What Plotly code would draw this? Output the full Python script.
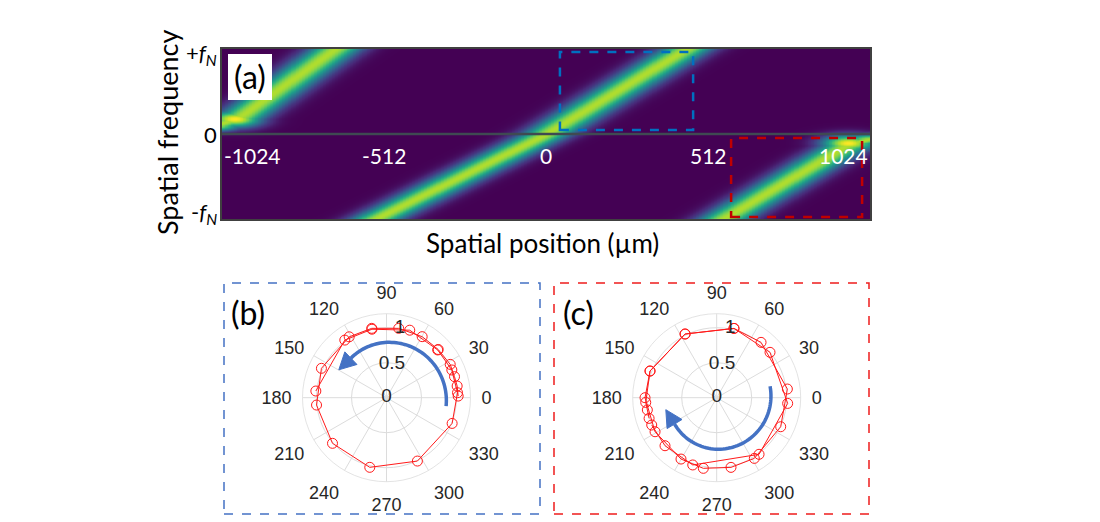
import numpy as np
import plotly.graph_objects as go

# page body adds an 8px margin, so the figure is laid out in page pixels minus 8
OFF = 8
W, H = 1100 - OFF, 522 - OFF

# ---------------- (a) spectrogram ----------------
pos_ticks = [-1024, -512, 0, 512, 1024]
pos_ticktext = ["-1024", "-512", "0", "512", "1024"]
freq_labels = ["+<i>f</i><sub><i>N</i></sub>", "0", "-<i>f</i><sub><i>N</i></sub>"]

# band centre lines: normalised frequency -> position (µm)
bandL_f = [0.10, 0.19, 1.0]
bandL_x = [-1050, -972, -667]
bandM_f = [-1.0, 0.0, 1.0]
bandM_x = [-540, 0, 442]
bandR_f = [-1.0, -0.11, -0.06]
bandR_x = [559, 961, 1024]
band_peak = 0.88
band_sigma_um = 58
spot_x = [-985, 955]
spot_f = [0.18, -0.105]
spot_peak = [1.0, 1.0]

# zoom boxes (µm, normalised freq)
blue_box = [44, 465, 0.047, 0.965]
red_box = [585, 999, -0.976, -0.047]

# ---------------- (b) and (c) polar ----------------
b_theta = [1.3, 9.4, 17.2, 27.6, 43, 59.7, 80, 102, 121.5, 155.7, 186, 220.2, 256.5,
           296, 338.6, 4, 23, 43, 71, 102, 125.9, 174.6]
b_r = [1.024, 1.023, 1.017, 1.027, 1.01, 1.01, 1.006, 1.013, 1.02, 1.02, 1.005, 1.01,
       1.023, 1.007, 1.007, 1.017, 1.014, 1.0, 1.02, 1.0, 1.016, 1.014]
c_theta = [197, 190, 183.8, 158.2, 116.4, 76, 51.3, 7, 335.6, 301.8, 281.6, 259.3, 239.8,
           208.9, 180, 158.2, 116.4, 76, 40.4, 355.4, 306.8, 250.4, 222.9, 202.8]
c_r = [1.01, 1.006, 1.016, 1.026, 1.016, 1.02, 1.013, 1.017, 1.004, 1.02, 1.016, 1.027,
       1.014, 1.006, 1.024, 1.026, 1.016, 1.02, 1.0, 1.017, 1.01, 1.02, 1.008, 1.007]
ang_ticks = list(range(0, 360, 30))
rad_labels = ["0", "0.5", "1"]


# ---------------- helpers (page pixel -> paper) ----------------
def px(x):
    return (x - OFF) / W


def py(y):
    return 1 - (y - OFF) / H


# heat map image
xs = np.linspace(-1024, 1024, 430)
fs = np.linspace(-1, 1, 171)
X, F = np.meshgrid(xs, fs)
Z = np.zeros_like(X)
for bf, bx in [(bandL_f, bandL_x), (bandM_f, bandM_x), (bandR_f, bandR_x)]:
    xc = np.interp(F, bf, bx)
    w = np.exp(-0.5 * ((X - xc) / band_sigma_um) ** 2)
    lo, hi = min(bf), max(bf)
    fade = np.where(F < lo, np.exp(-0.5 * ((F - lo) / 0.045) ** 2), 1.0)
    fade = fade * np.where(F > hi, np.exp(-0.5 * ((F - hi) / 0.045) ** 2), 1.0)
    Z = np.maximum(Z, band_peak * w * fade)
for sx, sf, sp in zip(spot_x, spot_f, spot_peak):
    Z = np.maximum(Z, sp * np.exp(-0.5 * ((X - sx) / 60) ** 2 - 0.5 * ((F - sf) / 0.07) ** 2))

fig = go.Figure()
fig.add_trace(go.Heatmap(x=xs, y=fs, z=Z, colorscale="Viridis", zmin=0, zmax=1,
                         showscale=False, zsmooth="best", hoverinfo="skip"))

# zero-frequency line
fig.add_shape(type="line", xref="x", yref="y", x0=-1024, x1=1024, y0=0, y1=0,
              line=dict(color="#3f4a52", width=2.5))
# zoom boxes
fig.add_shape(type="rect", xref="x", yref="y", x0=blue_box[0], x1=blue_box[1],
              y0=blue_box[2], y1=blue_box[3], line=dict(color="#0070c0", width=2.5, dash="dash"))
fig.add_shape(type="rect", xref="x", yref="y", x0=red_box[0], x1=red_box[1],
              y0=red_box[2], y1=red_box[3], line=dict(color="#c00000", width=2.5, dash="dash"))

# position labels inside the image
for v, t in zip(pos_ticks, pos_ticktext):
    anchor = "left" if v == pos_ticks[0] else ("right" if v == pos_ticks[-1] else "center")
    fig.add_annotation(x=v, y=-0.25, xref="x", yref="y", text=t, showarrow=False,
                       xanchor=anchor, yanchor="middle",
                       font=dict(family="Lato", size=21, color="white"))

fig.update_layout(
    xaxis=dict(domain=[px(222), px(870)], range=[-1024, 1024], showticklabels=False,
               ticks="", showgrid=False, zeroline=False, showline=True, mirror=True,
               linecolor="#404040", linewidth=1.5),
    yaxis=dict(domain=[py(219), py(49)], range=[-1, 1], showticklabels=False, ticks="",
               showgrid=False, zeroline=False, showline=True, mirror=True,
               linecolor="#404040", linewidth=1.5),
)

# frequency labels
for t, yy in zip(freq_labels, [54, 134, 213]):
    fig.add_annotation(x=px(219), y=py(yy), xref="paper", yref="paper", text=t,
                       showarrow=False, xanchor="right", yanchor="middle",
                       font=dict(family="Lato", size=22, color="black"))
fig.add_annotation(x=px(167), y=py(133), xref="paper", yref="paper", text="Spatial frequency",
                   showarrow=False, textangle=-90, xanchor="center", yanchor="middle",
                   font=dict(family="Lato", size=27, color="black"))
fig.add_annotation(x=px(542), y=py(243), xref="paper", yref="paper", text="Spatial position (µm)",
                   showarrow=False, xanchor="center", yanchor="middle",
                   font=dict(family="Lato", size=26, color="black"))
# (a) label in white box
fig.add_shape(type="rect", xref="paper", yref="paper", x0=px(228), x1=px(272), y0=py(100), y1=py(54),
              fillcolor="white", line=dict(width=0))
fig.add_annotation(x=px(250), y=py(77), xref="paper", yref="paper", text="(a)", showarrow=False,
                   xanchor="center", yanchor="middle", font=dict(family="Lato", size=32, color="black"))

# panel boxes
fig.add_shape(type="rect", xref="paper", yref="paper", x0=px(224), x1=px(540), y0=py(514), y1=py(283),
              line=dict(color="#4472c4", width=1.5, dash="dash"))
fig.add_shape(type="rect", xref="paper", yref="paper", x0=px(554), x1=px(869), y0=py(514), y1=py(283),
              line=dict(color="#ee1c1c", width=1.5, dash="dash"))
fig.add_annotation(x=px(248), y=py(312), xref="paper", yref="paper", text="(b)", showarrow=False,
                   xanchor="center", yanchor="middle", font=dict(family="Lato", size=32, color="black"))
fig.add_annotation(x=px(578), y=py(312), xref="paper", yref="paper", text="(c)", showarrow=False,
                   xanchor="center", yanchor="middle", font=dict(family="Lato", size=32, color="black"))

# polar plots
R_PX = 84
centres = {"polar": (386.5, 397.7), "polar2": (716.7, 397.7)}
GRID = "#dcdcdc"
for name, (cx, cy) in centres.items():
    fig.update_layout({name: dict(
        domain=dict(x=[px(cx - R_PX), px(cx + R_PX)], y=[py(cy + R_PX), py(cy - R_PX)]),
        bgcolor="white",
        radialaxis=dict(range=[0, 1.2], tickvals=[0.5, 1.0], showticklabels=False, ticks="",
                        showline=False, gridcolor=GRID, gridwidth=0.8),
        angularaxis=dict(tickmode="array", tickvals=ang_ticks, ticktext=[str(a) for a in ang_ticks],
                         direction="counterclockwise", rotation=0, showline=True,
                         linecolor=GRID, linewidth=0.8, gridcolor=GRID, gridwidth=0.8,
                         ticks="outside", ticklen=7, tickcolor="rgba(0,0,0,0)",
                         tickfont=dict(family="Liberation Sans", size=18, color="#262626")),
    )})

ARROW = "#4472c4"


def arrow_traces(t0, t1, r0, r1, head_len, head_w, sub):
    th = np.linspace(t0, t1, 60)
    rr = np.linspace(r0, r1, 60)
    traces = [go.Scatterpolar(r=rr, theta=th, mode="lines", subplot=sub, hoverinfo="skip",
                              line=dict(color=ARROW, width=3.5), showlegend=False)]
    # arrow head at the end
    a = np.deg2rad(th[-1])
    bx, by = rr[-1] * np.cos(a), rr[-1] * np.sin(a)
    a2 = np.deg2rad(th[-2])
    dx, dy = bx - rr[-2] * np.cos(a2), by - rr[-2] * np.sin(a2)
    n = np.hypot(dx, dy)
    dx, dy = dx / n, dy / n
    tipx, tipy = bx + head_len * dx, by + head_len * dy
    lx, ly = bx - head_w / 2 * dy, by + head_w / 2 * dx
    rx, ry = bx + head_w / 2 * dy, by - head_w / 2 * dx
    pts = [(tipx, tipy), (lx, ly), (rx, ry), (tipx, tipy)]
    traces.append(go.Scatterpolar(r=[np.hypot(p[0], p[1]) for p in pts],
                                  theta=[np.degrees(np.arctan2(p[1], p[0])) for p in pts],
                                  mode="lines", fill="toself", fillcolor=ARROW,
                                  line=dict(color=ARROW, width=1), subplot=sub,
                                  hoverinfo="skip", showlegend=False))
    return traces


for tr in arrow_traces(-8, 132, 0.86, 0.76, 0.24, 0.25, "polar"):
    fig.add_trace(tr)
for tr in arrow_traces(12, -148, 0.78, 0.71, 0.24, 0.25, "polar2"):
    fig.add_trace(tr)

for sub, th, rr in [("polar", b_theta, b_r), ("polar2", c_theta, c_r)]:
    fig.add_trace(go.Scatterpolar(r=rr, theta=th, mode="lines+markers", subplot=sub,
                                  line=dict(color="#ff1a1a", width=1),
                                  marker=dict(symbol="circle-open", size=10, color="#ff1a1a",
                                              line=dict(width=1)),
                                  showlegend=False))
    fig.add_trace(go.Scatterpolar(r=[0, 0.49, 1.01], theta=[0, 81, 79], mode="text",
                                  text=rad_labels, subplot=sub, hoverinfo="skip",
                                  textfont=dict(family="Liberation Sans", size=19, color="#262626"),
                                  showlegend=False))

fig.update_layout(width=W, height=H, margin=dict(l=0, r=0, t=0, b=0),
                  paper_bgcolor="white", plot_bgcolor="white", showlegend=False)

fig.write_html("out.html")
